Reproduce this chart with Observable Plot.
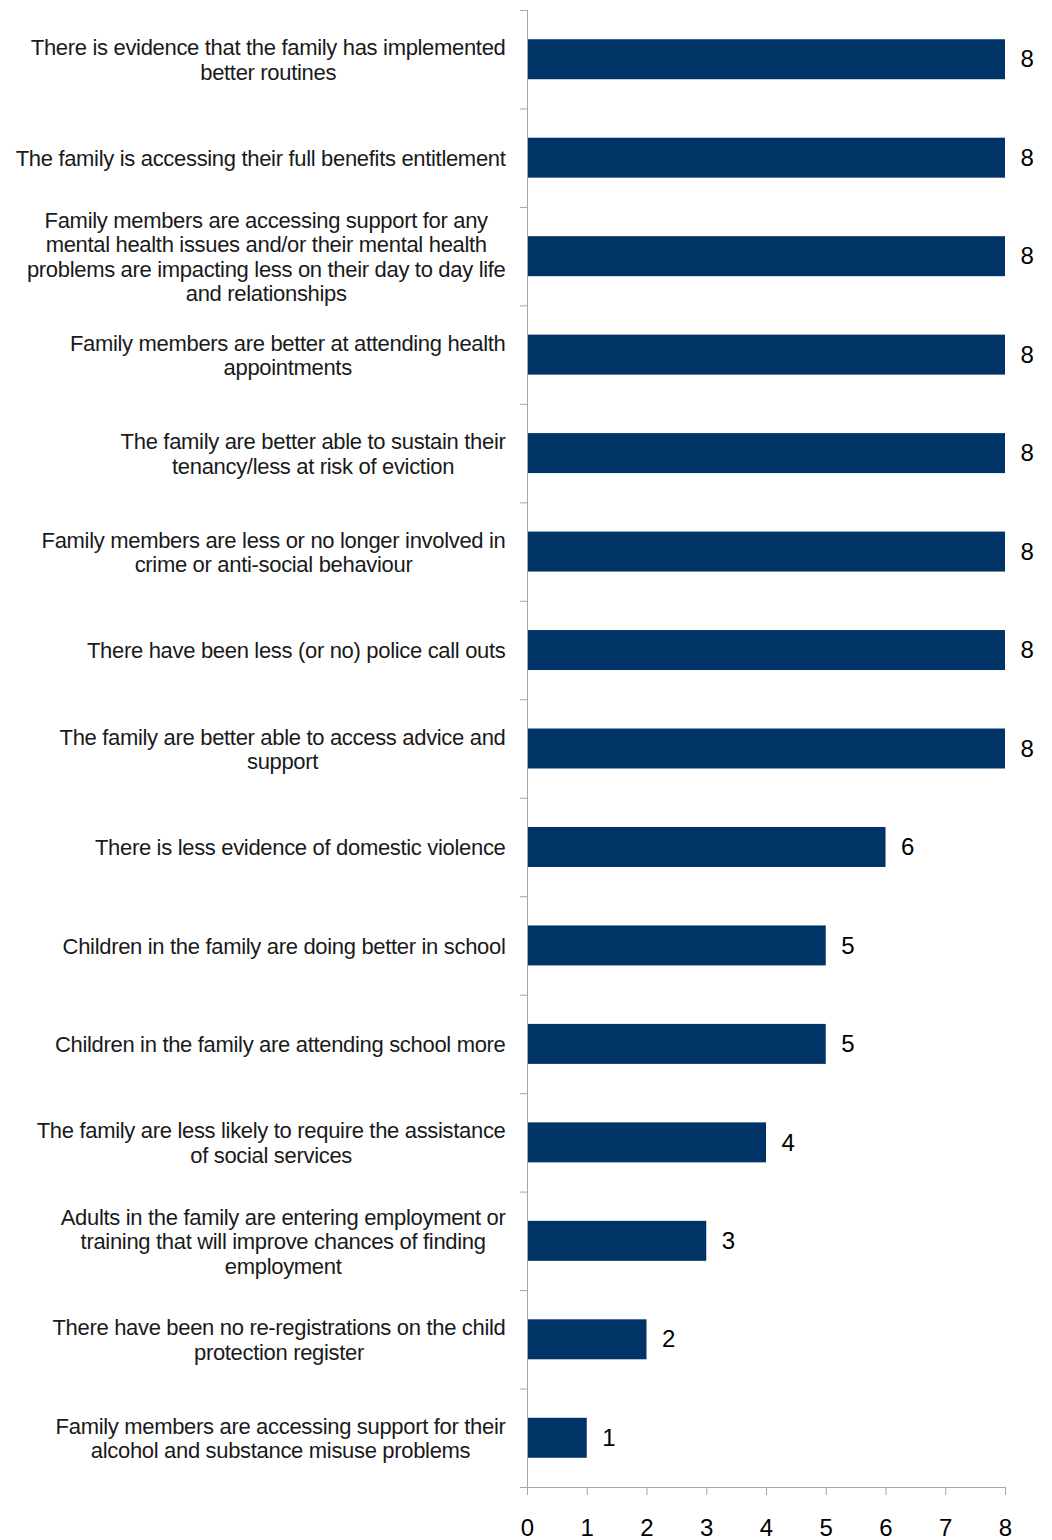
<!DOCTYPE html>
<html>
<head>
<meta charset="utf-8">
<script src="https://cdn.jsdelivr.net/npm/d3@7"></script>
<script src="https://cdn.jsdelivr.net/npm/@observablehq/plot@0.6"></script>
<style>
  html, body { margin: 0; padding: 0; background: #fff; }
  #chart svg { display: block; }
  g[aria-description="category-labels"] text { letter-spacing: -0.32px; }
</style>
</head>
<body>
<div id="chart"></div>
<script>
const categories = [
  "There is evidence that the family has implemented\nbetter routines",
  "The family is accessing their full benefits entitlement",
  "Family members are accessing support for any\nmental health issues and/or their mental health\nproblems are impacting less on their day to day life\nand relationships",
  "Family members are better at attending health\nappointments",
  "The family are better able to sustain their\ntenancy/less at risk of eviction",
  "Family members are less or no longer involved in\ncrime or anti-social behaviour",
  "There have been less (or no) police call outs",
  "The family are better able to access advice and\nsupport",
  "There is less evidence of domestic violence",
  "Children in the family are doing better in school",
  "Children in the family are attending school more",
  "The family are less likely to require the assistance\nof social services",
  "Adults in the family are entering employment or\ntraining that will improve chances of finding\nemployment",
  "There have been no re-registrations on the child\nprotection register",
  "Family members are accessing support for their\nalcohol and substance misuse problems"
];
const values = [8, 8, 8, 8, 8, 8, 8, 8, 6, 5, 5, 4, 3, 2, 1];
const xTicks = [0, 1, 2, 3, 4, 5, 6, 7, 8];

// layout
const W = 1052, H = 1540;
const mL = 527, mR = 47, mT = 10, mB = 53;
const labelFont = 22, labelLS = -0.32, labelGap = 22;
const step = (H - mT - mB) / categories.length;

const data = categories.map((c, i) => ({category: c, value: values[i]}));

// measure label blocks so each centered block sits right-aligned against the axis
const ctx = document.createElement("canvas").getContext("2d");
ctx.font = `${labelFont}px "Liberation Sans", Arial, sans-serif`;
const lineW = s => ctx.measureText(s).width + labelLS * s.length;
const xScale = d3.scaleLinear().domain([0, 8]).range([mL, W - mR]);
const labelData = categories.map(c => {
  const w = d3.max(c.split("\n"), lineW);
  const cx = mL - labelGap - w / 2;
  return {category: c, xpos: xScale.invert(cx)};
});

const axisColor = "#a6a6a6";

const plot = Plot.plot({
  width: W,
  height: H,
  marginLeft: mL,
  marginRight: mR,
  marginTop: mT,
  marginBottom: mB,
  style: {fontFamily: '"Liberation Sans", Arial, sans-serif', background: "#fff"},
  x: {domain: [0, 8], ticks: xTicks, label: null, axis: null},
  y: {domain: categories, paddingInner: 0.594, paddingOuter: 0.297, round: false, axis: null},
  marks: [
    Plot.barX(data, {y: "category", x: "value", fill: "#003366"}),
    Plot.frame({anchor: "left", stroke: axisColor}),
    Plot.frame({anchor: "bottom", stroke: axisColor}),
    // y-axis tick marks at band boundaries
    Plot.ruleY(categories, {y: d => d, x1: xScale.invert(mL - 7), x2: 0, dy: -step / 2, stroke: axisColor}),
    Plot.ruleY([categories[categories.length - 1]], {y: d => d, x1: xScale.invert(mL - 7), x2: 0, dy: step / 2, stroke: axisColor}),
    Plot.axisX(xTicks, {anchor: "bottom", tickSize: 8, tickPadding: 23, stroke: axisColor, fill: "#000", fontSize: 24, label: null}),
    Plot.text(data, {y: "category", x: "value", text: d => String(d.value), textAnchor: "start", dx: 15, fontSize: 24, fill: "#000"}),
    Plot.text(labelData, {y: "category", x: "xpos", text: "category", textAnchor: "middle", lineAnchor: "middle", lineHeight: 1.115, fontSize: labelFont, fill: "#1a1a1a", ariaDescription: "category-labels"})
  ]
});
document.getElementById("chart").appendChild(plot);
</script>
</body>
</html>
